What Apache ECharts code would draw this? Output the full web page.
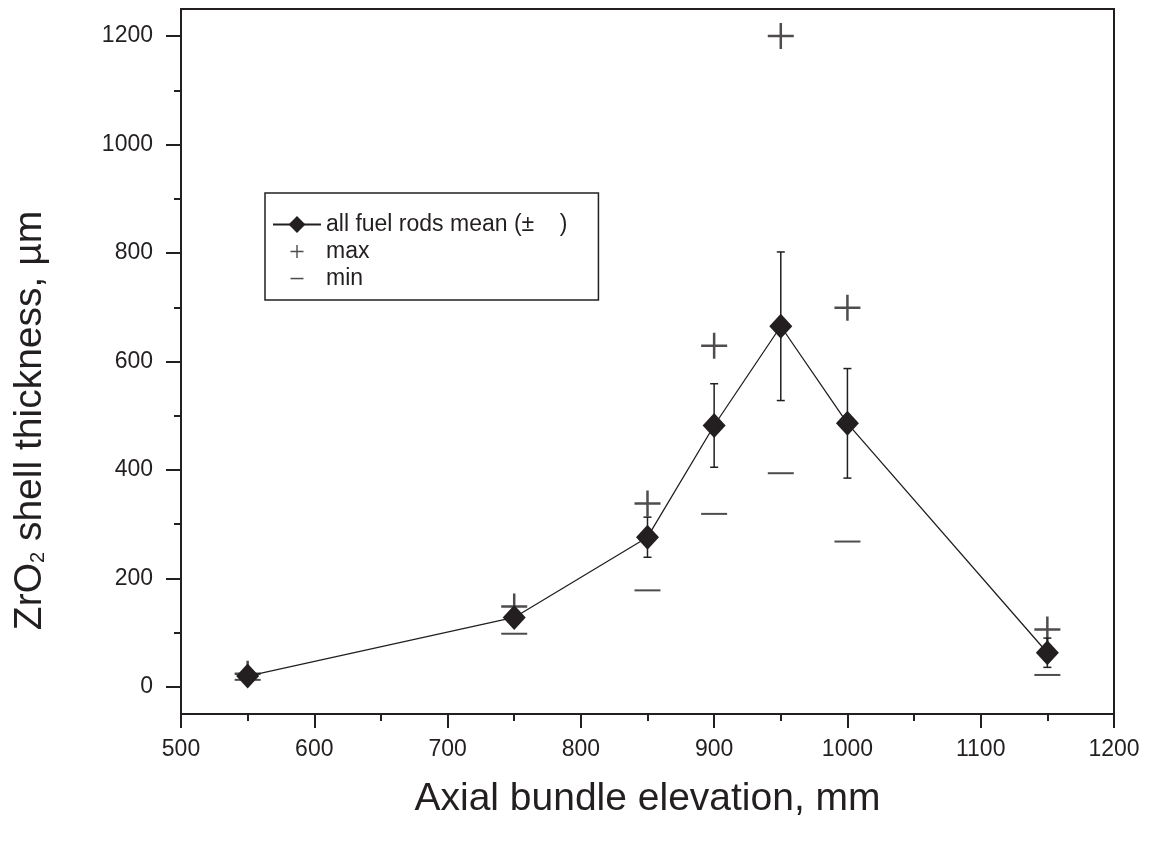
<!DOCTYPE html>
<html>
<head>
    <meta charset="utf-8">
    <title>ZrO2 shell thickness</title>
    <script src="https://cdn.jsdelivr.net/npm/echarts@6/dist/echarts.min.js"></script>
    <style>
        html, body { margin: 0; padding: 0; background: #fff; }
    </style>
</head>
<body>
<div id="main" style="width: 1149px;height:850px;"></div>
<script type="text/javascript">
    // values
    var elevations = [550, 750, 850, 900, 950, 1000, 1150];
    var meanValues = [20, 128, 276, 482, 665, 486, 63];
    var errValues  = [6, 8, 37, 77, 137, 101, 27];
    var maxValues  = [24, 148, 338, 629, 1200, 699, 106];
    var minValues  = [13, 98, 178, 319, 394, 268, 22];
    var yMajorTicks = [0, 200, 400, 600, 800, 1000, 1200];
    var yMinorTicks = [100, 300, 500, 700, 900, 1100];

    var ink = '#231f20';
    var font = "'Liberation Sans', Arial, sans-serif";
    var meanName = 'all fuel rods mean (±    )';

    var plusPath = 'path://M11.75,0h2.5v11.75h11.75v2.5h-11.75v11.75h-2.5v-11.75h-11.75v-2.5h11.75z';
    // legend icons: the moveTo points keep the icon box at 48x21
    var plusIcon = 'path://M0,0M48,21M23.3,4h1.4v5.8h5.8v1.4h-5.8v5.8h-1.4v-5.8h-5.8v-1.4h5.8z';
    var dashIcon = 'path://M0,0M48,21M17.5,9.8h13v1.5h-13z';

    var errData = elevations.map(function (x, i) {
        return [x, meanValues[i] - errValues[i], meanValues[i] + errValues[i]];
    });
    var pair = function (arr) {
        return elevations.map(function (x, i) { return [x, arr[i]]; });
    };
    var plain = function (v) { return String(v); };

    var myChart = echarts.init(document.getElementById('main'), null, {renderer: 'canvas'});

    var option = {
        backgroundColor: '#fff',
        animation: false,
        grid: {
            left: 181, right: 35, top: 9, bottom: 136,
            show: true,
            borderColor: ink,
            borderWidth: 2
        },
        legend: {
            orient: 'vertical',
            left: 265,
            top: 193,
            padding: [20, 31, 10, 7],
            itemWidth: 48,
            itemHeight: 21,
            itemGap: 4,
            borderColor: ink,
            borderWidth: 1.5,
            selectedMode: false,
            textStyle: { fontFamily: font, fontSize: 23, lineHeight: 22, color: ink },
            data: [
                { name: meanName },
                { name: 'max', icon: plusIcon },
                { name: 'min', icon: dashIcon }
            ]
        },
        xAxis: {
            type: 'value',
            min: 500,
            max: 1200,
            interval: 100,
            name: 'Axial bundle elevation, mm',
            nameLocation: 'middle',
            nameGap: 66,
            nameTextStyle: { fontFamily: font, fontSize: 39, color: ink },
            axisLine: { onZero: false, lineStyle: { color: ink, width: 2 } },
            axisTick: { inside: false, length: 14, lineStyle: { color: ink, width: 2 } },
            minorTick: { show: true, splitNumber: 2, length: 7, lineStyle: { color: ink, width: 2 } },
            splitLine: { show: false },
            axisLabel: { margin: 24, formatter: plain, fontFamily: font, fontSize: 23, color: ink }
        },
        yAxis: [{
            type: 'value',
            min: -50,
            max: 1250,
            name: '{a|ZrO}{s|2}{a| shell thickness, µm}',
            nameLocation: 'middle',
            nameRotate: 90,
            nameGap: 131,
            nameTextStyle: {
                padding: [0, 118, 0, 0],
                rich: {
                    a: { fontFamily: font, fontSize: 39, color: ink },
                    s: { fontFamily: font, fontSize: 20, color: ink, padding: [16, 0, 0, 0] }
                }
            },
            axisLine: { show: true, onZero: false, lineStyle: { color: ink, width: 2 } },
            axisTick: { show: true, inside: false, length: 15, customValues: yMajorTicks, lineStyle: { color: ink, width: 2 } },
            splitLine: { show: false },
            axisLabel: { margin: 28, customValues: yMajorTicks, formatter: plain, fontFamily: font, fontSize: 23, color: ink }
        }, {
            // minor ticks only
            type: 'value',
            min: -50,
            max: 1250,
            position: 'left',
            axisLine: { show: false, onZero: false },
            axisTick: { show: true, inside: false, length: 7, customValues: yMinorTicks, lineStyle: { color: ink, width: 2 } },
            axisLabel: { show: false },
            splitLine: { show: false }
        }],
        series: [{
            name: 'error',
            type: 'custom',
            data: errData,
            z: 1,
            renderItem: function (params, api) {
                var x = api.value(0);
                var top = api.coord([x, api.value(2)]);
                var bot = api.coord([x, api.value(1)]);
                var w = 4;
                var st = { stroke: ink, lineWidth: 1.5 };
                return {
                    type: 'group',
                    children: [
                        { type: 'line', shape: { x1: top[0], y1: top[1], x2: bot[0], y2: bot[1] }, style: st },
                        { type: 'line', shape: { x1: top[0] - w, y1: top[1], x2: top[0] + w, y2: top[1] }, style: st },
                        { type: 'line', shape: { x1: bot[0] - w, y1: bot[1], x2: bot[0] + w, y2: bot[1] }, style: st }
                    ]
                };
            }
        }, {
            name: 'max',
            type: 'scatter',
            data: pair(maxValues),
            symbol: plusPath,
            symbolSize: 26,
            itemStyle: { color: ink },
            z: 2
        }, {
            name: 'min',
            type: 'scatter',
            data: pair(minValues),
            symbol: 'rect',
            symbolSize: [26, 2],
            itemStyle: { color: ink },
            z: 2
        }, {
            name: meanName,
            type: 'line',
            data: pair(meanValues),
            symbol: 'diamond',
            symbolSize: [23, 25],
            showAllSymbol: true,
            lineStyle: { color: ink, width: 1.3 },
            itemStyle: { color: ink },
            z: 3
        }]
    };

    myChart.setOption(option);
</script>
</body>
</html>
